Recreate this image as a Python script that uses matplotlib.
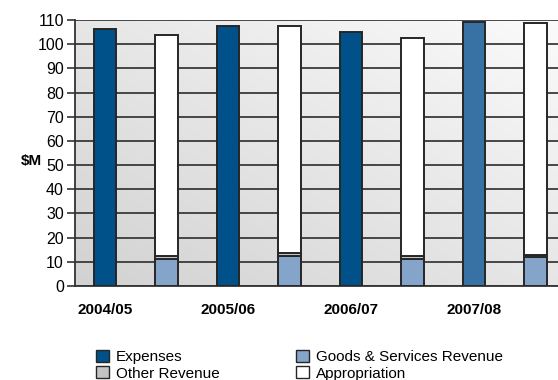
import numpy as np
import matplotlib
matplotlib.use("Agg")
import matplotlib.pyplot as plt
from matplotlib.patches import Patch

plt.rcParams['font.family'] = ['Liberation Sans', 'DejaVu Sans']

years = ["2004/05", "2005/06", "2006/07", "2007/08"]
expenses = [106.2, 107.5, 105.0, 109.3]
goods_services = [11.2, 12.6, 11.2, 11.9]
other_revenue = [1.0, 1.2, 1.0, 1.0]
appropriation = [91.7, 93.7, 90.4, 95.9]
yticks = [0, 10, 20, 30, 40, 50, 60, 70, 80, 90, 100, 110]

c_exp = "#00508a"
c_exp_last = "#3872a4"
c_gs = "#84a5c9"
c_other = "#c4c4c4"
c_app = "#ffffff"
edge = "#262626"

fig = plt.figure(figsize=(5.58, 3.80), dpi=100)
ax = fig.add_axes([0.1344, 0.2474, 0.879, 0.700])

x = np.arange(len(years))
w = 0.18
xmin, xmax = -0.244, 3.744
ax.set_xlim(xmin, xmax)
ax.set_ylim(0, 110)

# background gradient
gx, gy = np.meshgrid(np.linspace(0, 1, 200), np.linspace(0, 1, 200))
g = 0.5 * gx + 0.5 * gy
ax.imshow(g, extent=[xmin, xmax, 0, 110], origin='lower', aspect='auto',
          cmap=matplotlib.colors.LinearSegmentedColormap.from_list('bg', ['#d2d2d2', '#fbfbfb']),
          zorder=0)

for yv in yticks:
    ax.axhline(yv, color='#3a3a3a', lw=1.3, zorder=1)

exp_colors = [c_exp, c_exp, c_exp, c_exp_last]
ax.bar(x, expenses, w, color=exp_colors, edgecolor=edge, lw=1.4, zorder=3)
xs = x + 0.5
ax.bar(xs, goods_services, w, color=c_gs, edgecolor=edge, lw=1.4, zorder=3)
b2 = np.array(goods_services)
ax.bar(xs, other_revenue, w, bottom=b2, color=c_other, edgecolor=edge, lw=1.4, zorder=3)
b3 = b2 + np.array(other_revenue)
ax.bar(xs, appropriation, w, bottom=b3, color=c_app, edgecolor=edge, lw=1.4, zorder=3)

ax.set_yticks(yticks)
ax.set_yticklabels([str(v) for v in yticks], fontsize=11.5)
ax.tick_params(axis='y', length=6, width=1.2, color='#333333', pad=2)
ax.set_xticks(x)
ax.set_xticklabels(years, fontsize=11, fontweight='bold')
ax.tick_params(axis='x', length=0, pad=12)

for s in ['top', 'right']:
    ax.spines[s].set_visible(False)
ax.spines['left'].set_color('#333333')
ax.spines['left'].set_linewidth(1.3)
ax.spines['bottom'].set_color('#333333')
ax.spines['bottom'].set_linewidth(1.3)

fig.text(0.057, 0.576, "$M", fontsize=11, fontweight='bold', ha='center', va='center')

handles = [Patch(facecolor=c_exp, edgecolor=edge, label="Expenses"),
           Patch(facecolor=c_other, edgecolor=edge, label="Other Revenue"),
           Patch(facecolor=c_gs, edgecolor=edge, label="Goods & Services Revenue"),
           Patch(facecolor=c_app, edgecolor=edge, label="Appropriation")]
fig.legend(handles=handles, ncol=2, frameon=False, loc='upper left',
           bbox_to_anchor=(0.172, 0.08), fontsize=11, handlelength=0.85,
           handleheight=0.85, handletextpad=0.45, columnspacing=5.0,
           labelspacing=0.15, borderaxespad=0, borderpad=0)

fig.savefig("out.png", dpi=100)
